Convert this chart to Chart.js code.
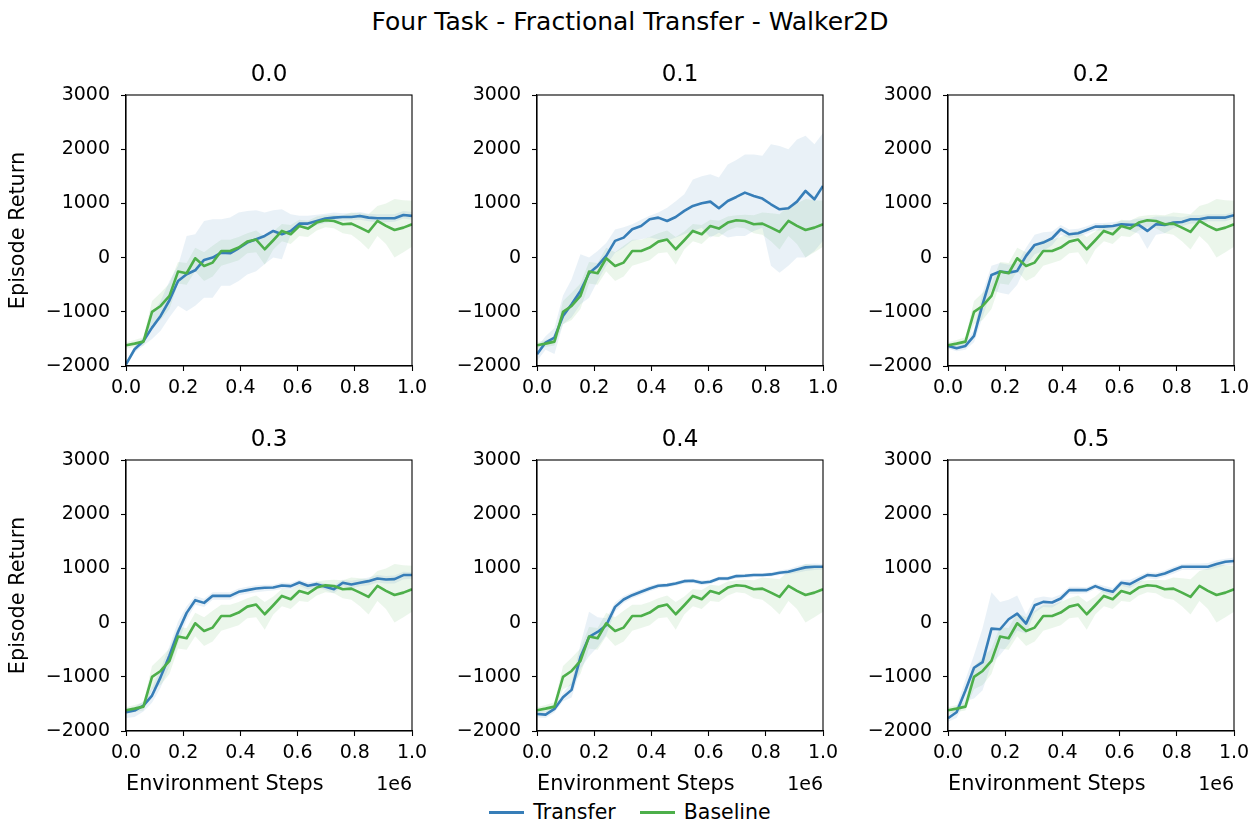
<!DOCTYPE html>
<html>
<head>
<meta charset="utf-8">
<title>Four Task - Fractional Transfer - Walker2D</title>
<script src="https://cdn.jsdelivr.net/npm/chart.js@4.4.0/dist/chart.umd.min.js"></script>
<style>
  html, body { margin: 0; padding: 0; background: #fff; }
  body { width: 1260px; height: 825px; position: relative; overflow: hidden; font-family: 'DejaVu Sans', sans-serif; color: #000; }
  #suptitle { position: absolute; left: 0; top: 7px; width: 1260px; text-align: center; font-size: 25px; line-height: 30px; }
  .panel { position: absolute; }
  #legend { position: absolute; left: 0; top: 800px; width: 1260px; display: flex; justify-content: center; align-items: center; font-size: 20.5px; line-height: 24px; }
  .item { display: flex; align-items: center; }
  .item + .item { margin-left: 24px; }
  .swatch { width: 35px; height: 3px; margin-right: 9px; }
</style>
</head>
<body>
<div id="suptitle">Four Task - Fractional Transfer - Walker2D</div>
<div id="panels"></div>
<div id="legend">
  <div class="item"><span class="swatch" style="background:#377eb8"></span><span>Transfer</span></div>
  <div class="item"><span class="swatch" style="background:#4daf4a"></span><span>Baseline</span></div>
</div>
<script>
// Environment steps (x 1e6) at which each run was evaluated
const steps = [0.000, 0.030, 0.061, 0.091, 0.121, 0.152, 0.182, 0.212, 0.242, 0.273, 0.303, 0.333,
  0.364, 0.394, 0.424, 0.455, 0.485, 0.515, 0.545, 0.576, 0.606, 0.636, 0.667, 0.697, 0.727, 0.758,
  0.788, 0.818, 0.848, 0.879, 0.909, 0.939, 0.970, 1.000];

// Baseline (no transfer), shared by every panel
const baselineMean = [-1617, -1587, -1550, -1002, -892, -707, -258, -289, -12, -154, -92, 123, 123, 185,
  295, 332, 154, 320, 492, 430, 584, 535, 646, 689, 676, 615, 627, 553, 474, 676, 584, 510, 553, 615];
const baselineLow = [-1680, -1650, -1620, -1230, -1150, -950, -480, -500, -250, -430, -350, -150, -100, -50,
  80, 100, -130, 150, 300, 250, 400, 380, 500, 560, 540, 450, 420, 300, 150, 400, 250, 0, 100, 200];
const baselineHigh = [-1560, -1520, -1470, -800, -650, -480, -80, -100, 180, 100, 220, 330, 330, 380,
  450, 500, 380, 480, 620, 600, 700, 680, 760, 780, 790, 780, 830, 820, 800, 950, 1000, 1080, 1060, 1050];

// Transfer fraction 0.0
const transfer00Mean = [-1968, -1691, -1538, -1292, -1076, -787, -430, -307, -234, -43, 0, 92, 80, 172,
  277, 338, 400, 492, 430, 492, 627, 627, 676, 720, 738, 750, 750, 769, 738, 726, 726, 726, 787, 769];
const transfer00Low = [-2000, -1750, -1620, -1500, -1350, -1100, -890, -990, -890, -740, -740, -520, -520, -430,
  -310, -250, -120, 0, -30, 430, 550, 540, 600, 640, 660, 680, 690, 700, 670, 650, 650, 660, 720, 700];
const transfer00High = [-1930, -1640, -1470, -1050, -800, -430, -150, 400, 430, 677, 707, 707, 738, 830,
  861, 873, 830, 873, 892, 800, 770, 770, 790, 810, 830, 820, 820, 840, 810, 800, 800, 800, 860, 840];

// Transfer fraction 0.1
const transfer01Mean = [-1784, -1568, -1476, -1076, -861, -615, -289, -154, 31, 308, 369, 523, 584, 707,
  738, 676, 750, 861, 953, 1002, 1033, 910, 1045, 1119, 1199, 1138, 1089, 984, 892, 910, 1033, 1230, 1076, 1322];
const transfer01Low = [-1910, -1700, -1780, -1230, -1100, -860, -740, -430, -150, 90, 180, 310, 340, 370,
  340, 310, 370, 430, 490, 550, 370, 460, 370, 400, 400, 490, 550, -150, -280, -150, 0, 0, 120, 310];
const transfer01High = [-1650, -1450, -1300, -700, -400, 60, 0, 120, 270, 520, 560, 615, 700, 770,
  830, 920, 1040, 1170, 1440, 1500, 1540, 1480, 1720, 1800, 1900, 1900, 1880, 2090, 2060, 2000, 2180, 2250, 2090, 2300];

// Transfer fraction 0.2
const transfer02Mean = [-1630, -1673, -1630, -1445, -861, -320, -258, -277, -246, 31, 234, 277, 357, 523,
  430, 449, 510, 572, 572, 584, 615, 603, 603, 492, 615, 603, 646, 658, 707, 707, 738, 738, 738, 781];
const transfer02Low = [-1680, -1730, -1700, -1560, -1100, -600, -650, -680, -500, -150, 60, 120, 230, 420,
  360, 380, 440, 500, 500, 510, 540, 500, 440, 160, 420, 450, 540, 580, 630, 630, 670, 670, 670, 720];
const transfer02High = [-1580, -1610, -1570, -1330, -650, -150, -100, -130, -100, 180, 420, 470, 480, 600,
  520, 530, 580, 640, 640, 650, 680, 690, 720, 720, 760, 760, 760, 740, 780, 780, 800, 800, 800, 840];

// Transfer fraction 0.3
const transfer03Mean = [-1654, -1623, -1531, -1346, -1006, -605, -173, 179, 414, 364, 494, 494, 494, 568,
  599, 630, 642, 648, 685, 673, 741, 679, 710, 660, 617, 735, 704, 735, 765, 815, 796, 802, 877, 877];
const transfer03Low = [-1760, -1740, -1640, -1480, -1200, -800, -380, 50, 330, 290, 420, 420, 420, 500,
  530, 560, 580, 590, 620, 610, 680, 610, 650, 600, 540, 670, 630, 670, 690, 740, 720, 720, 800, 810];
const transfer03High = [-1590, -1560, -1450, -1200, -850, -430, 20, 300, 490, 440, 560, 560, 560, 630,
  660, 690, 700, 700, 740, 730, 790, 740, 760, 720, 690, 790, 770, 800, 830, 880, 860, 870, 940, 930];

// Transfer fraction 0.4
const transfer04Mean = [-1685, -1698, -1593, -1377, -1241, -636, -265, -173, -49, 290, 426, 506, 568, 630,
  679, 691, 722, 765, 772, 735, 753, 815, 815, 858, 864, 877, 877, 889, 920, 938, 981, 1019, 1031, 1031];
const transfer04Low = [-1750, -1760, -1660, -1450, -1380, -850, -620, -450, -230, 200, 360, 450, 510, 580,
  630, 650, 680, 720, 730, 690, 710, 770, 770, 820, 820, 840, 840, 850, 880, 890, 920, 950, 970, 980];
const transfer04High = [-1620, -1640, -1530, -1300, -1100, -400, 200, 100, 80, 370, 490, 560, 620, 680,
  720, 730, 760, 800, 810, 780, 790, 850, 850, 890, 900, 910, 910, 930, 960, 990, 1040, 1080, 1090, 1080];

// Transfer fraction 0.5
const transfer05Mean = [-1765, -1654, -1253, -833, -728, -111, -123, 62, 167, -19, 321, 383, 370, 444,
  599, 599, 599, 673, 611, 568, 735, 710, 796, 877, 864, 907, 969, 1031, 1031, 1031, 1031, 1080, 1123, 1136];
const transfer05Low = [-1830, -1760, -1450, -1400, -1250, -750, -600, -400, -150, -200, 180, 290, 280, 370,
  530, 530, 540, 620, 550, 500, 680, 640, 730, 820, 800, 850, 900, 970, 970, 970, 970, 1010, 1060, 1070];
const transfer05High = [-1700, -1550, -1050, -600, -100, 560, 380, 420, 500, 150, 450, 480, 460, 520,
  660, 660, 650, 720, 680, 640, 790, 790, 860, 930, 920, 960, 1030, 1080, 1090, 1090, 1100, 1150, 1180, 1200];

const panelTitles = ['0.0', '0.1', '0.2', '0.3', '0.4', '0.5'];
const yTicks = [-2000, -1000, 0, 1000, 2000, 3000];
const xTicks = [0.0, 0.2, 0.4, 0.6, 0.8, 1.0];

const panels = [
  { title: panelTitles[0], mean: transfer00Mean, low: transfer00Low, high: transfer00High },
  { title: panelTitles[1], mean: transfer01Mean, low: transfer01Low, high: transfer01High },
  { title: panelTitles[2], mean: transfer02Mean, low: transfer02Low, high: transfer02High },
  { title: panelTitles[3], mean: transfer03Mean, low: transfer03Low, high: transfer03High },
  { title: panelTitles[4], mean: transfer04Mean, low: transfer04Low, high: transfer04High },
  { title: panelTitles[5], mean: transfer05Mean, low: transfer05Low, high: transfer05High }
];

const FONT = "'DejaVu Sans', sans-serif";
const BLUE = '#377eb8', GREEN = '#4daf4a';
const BLUE_FILL = 'rgba(55,126,184,0.11)', GREEN_FILL = 'rgba(77,175,74,0.11)';

// grid geometry of the subplots (plot-area corners)
const colLeft = [126, 537, 948];
const rowTop = [95, 460];
const plotW = 286, plotH = 271;
const axisW = 126, titleH = 50, padRight = 24;

const pts = vals => steps.map((s, i) => ({ x: s, y: vals[i] }));
const fmtY = v => (v < 0 ? '\u2212' + Math.abs(v) : String(v));

// closes the axes box (top and right spines)
const framePlugin = {
  id: 'frame',
  afterDatasetsDraw(chart) {
    const { ctx, chartArea: a } = chart;
    ctx.save();
    ctx.strokeStyle = '#000';
    ctx.lineWidth = 1.1;
    ctx.strokeRect(a.left, a.top, a.right - a.left, a.bottom - a.top);
    ctx.restore();
  }
};

// scale multiplier written at the right end of the x axis
const offsetTextPlugin = {
  id: 'offsetText',
  afterDraw(chart, args, opts) {
    if (!opts.text) return;
    const { ctx, chartArea: a } = chart;
    const xs = chart.scales.x;
    ctx.save();
    ctx.font = '19px ' + FONT;
    ctx.fillStyle = '#000';
    ctx.textAlign = 'right';
    ctx.textBaseline = 'middle';
    ctx.fillText(opts.text, a.right, xs.bottom - 12.3);
    ctx.restore();
  }
};

const host = document.getElementById('panels');
panels.forEach((p, k) => {
  const col = k % 3, row = Math.floor(k / 3);
  const xAxisH = row === 0 ? 40 : 66;
  const w = axisW + plotW + padRight;
  const h = titleH + plotH + xAxisH;
  const div = document.createElement('div');
  div.className = 'panel';
  div.style.left = (colLeft[col] - axisW) + 'px';
  div.style.top = (rowTop[row] - titleH) + 'px';
  div.style.width = w + 'px';
  div.style.height = h + 'px';
  const cv = document.createElement('canvas');
  cv.width = w; cv.height = h;
  cv.style.width = w + 'px'; cv.style.height = h + 'px';
  div.appendChild(cv);
  host.appendChild(div);

  const tickFont = { family: FONT, size: 19 };
  const labelFont = { family: FONT, size: 20.8 };
  const gridOpts = { display: true, drawOnChartArea: false, drawTicks: true, tickLength: 5, tickColor: '#000', tickWidth: 1.1 };

  new Chart(cv, {
    type: 'line',
    data: {
      datasets: [
        { label: 'Baseline', data: pts(baselineMean), borderColor: GREEN, borderWidth: 2.6, pointRadius: 0, fill: false, tension: 0, borderJoinStyle: 'round' },
        { label: 'Transfer', data: pts(p.mean), borderColor: BLUE, borderWidth: 2.6, pointRadius: 0, fill: false, tension: 0, borderJoinStyle: 'round' },
        { label: 'Transfer high', data: pts(p.high), borderWidth: 0, pointRadius: 0, backgroundColor: BLUE_FILL, fill: '+1', tension: 0 },
        { label: 'Transfer low', data: pts(p.low), borderWidth: 0, pointRadius: 0, fill: false, tension: 0 },
        { label: 'Baseline high', data: pts(baselineHigh), borderWidth: 0, pointRadius: 0, backgroundColor: GREEN_FILL, fill: '+1', tension: 0 },
        { label: 'Baseline low', data: pts(baselineLow), borderWidth: 0, pointRadius: 0, fill: false, tension: 0 }
      ]
    },
    options: {
      responsive: false,
      animation: false,
      events: [],
      layout: { padding: { left: 0, right: padRight, top: 0, bottom: 0 } },
      plugins: {
        legend: { display: false },
        tooltip: { enabled: false },
        title: {
          display: true, text: p.title, fullSize: false, color: '#000',
          font: { family: FONT, size: 23, weight: 'normal', lineHeight: 1.2 },
          padding: { top: 16.2, bottom: 6.2 }
        },
        offsetText: { text: row === 1 ? '1e6' : '' }
      },
      scales: {
        x: {
          type: 'linear', min: 0, max: 1,
          afterFit: s => { s.height = xAxisH; },
          afterBuildTicks: s => { s.ticks = xTicks.map(v => ({ value: v })); },
          ticks: { callback: v => Number(v).toFixed(1), font: tickFont, color: '#000', padding: 6, maxRotation: 0, autoSkip: false },
          grid: gridOpts,
          border: { display: true, color: '#000', width: 1.1 },
          title: { display: row === 1, text: 'Environment Steps', align: 'start', color: '#000', font: labelFont, padding: { top: 0, bottom: 0 } }
        },
        y: {
          type: 'linear', min: -2000, max: 3000,
          afterFit: s => { s.width = axisW; },
          afterBuildTicks: s => { s.ticks = yTicks.map(v => ({ value: v })); },
          ticks: { callback: v => fmtY(v), font: tickFont, color: '#000', padding: 11, autoSkip: false },
          grid: gridOpts,
          border: { display: true, color: '#000', width: 1.1 },
          title: { display: col === 0, text: 'Episode Return', color: '#000', font: labelFont, padding: { top: 6, bottom: 0 } }
        }
      }
    },
    plugins: [framePlugin, offsetTextPlugin]
  });
});
</script>
</body>
</html>
